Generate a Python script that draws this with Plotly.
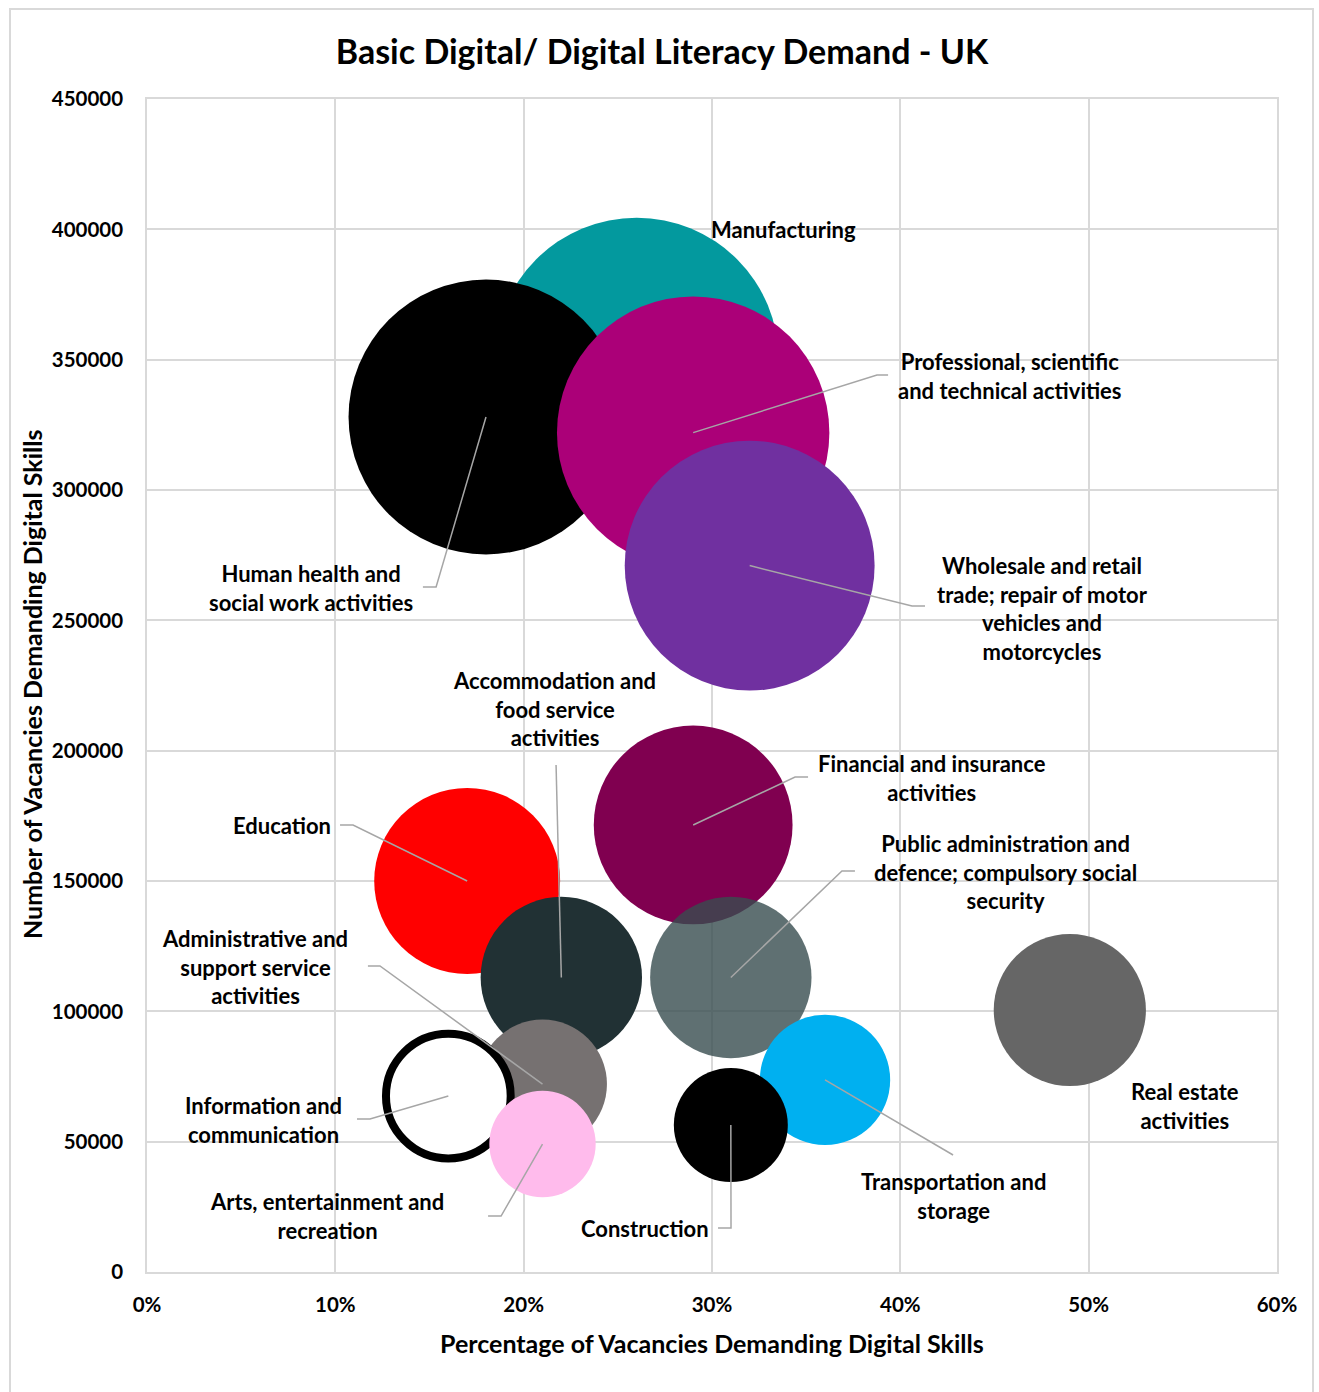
import plotly.graph_objects as go

# ---------------- data ----------------
sectors = [
    "Manufacturing",
    "Human health and social work activities",
    "Professional, scientific and technical activities",
    "Wholesale and retail trade; repair of motor vehicles and motorcycles",
    "Financial and insurance activities",
    "Education",
    "Accommodation and food service activities",
    "Public administration and defence; compulsory social security",
    "Real estate activities",
    "Administrative and support service activities",
    "Information and communication",
    "Arts, entertainment and recreation",
    "Transportation and storage",
    "Construction",
]
pct_digital = [0.26, 0.18, 0.29, 0.32, 0.29, 0.17, 0.22, 0.31, 0.49, 0.21, 0.16, 0.21, 0.36, 0.31]
vacancies = [350000, 328000, 322000, 271000, 171500, 150000, 113000, 113000, 100500, 72100, 67500, 49100, 73700, 56400]

x_ticks = [0, 0.1, 0.2, 0.3, 0.4, 0.5, 0.6]
y_ticks = list(range(0, 450001, 50000))

# ---------------- styles ----------------
fill_colors = ["#03999E", "#000000", "#AB0078", "#7030A0", "#800050", "#FF0000", "#213134",
               "rgb(55,76,79)", "#666666", "#767171", "#FFFFFF", "#FFBBEC", "#00B0F0", "#000000"]
opacities = [1, 1, 1, 1, 1, 1, 1, 0.8, 1, 1, 1, 1, 1, 1]
line_widths = [0, 0, 0, 0, 0, 0, 0, 0, 0, 0, 8, 0, 0, 0]

label_text = [
    "Manufacturing",
    "Human health and<br>social work activities",
    "Professional, scientific<br>and technical activities",
    "Wholesale and retail<br>trade; repair of motor<br>vehicles and<br>motorcycles",
    "Financial and insurance<br>activities",
    "Education",
    "Accommodation and<br>food service<br>activities",
    "Public administration and<br>defence; compulsory social<br>security",
    "Real estate<br>activities",
    "Administrative and<br>support service<br>activities",
    "Information and<br>communication",
    "Arts, entertainment and<br>recreation",
    "Transportation and<br>storage",
    "Construction",
]
# label centre positions (data units)
label_pos = [
    (0.338, 400100), (0.0871, 262400), (0.4582, 343730), (0.4757, 254730),
    (0.4168, 189510), (0.0717, 171480), (0.2166, 215980), (0.4556, 153450),
    (0.5511, 63680), (0.0573, 117010), (0.0616, 58310), (0.0956, 21480),
    (0.4280, 29160), (0.2644, 16880),
]
# leader line waypoints after the bubble centre (data units); None = no leader
leader_pts = [
    None,
    [(0.1535, 262790), (0.1465, 262790)],
    [(0.3876, 344110), (0.3935, 344110)],
    [(0.4062, 255500), (0.4131, 255500)],
    [(0.3441, 189900), (0.3510, 189900)],
    [(0.1094, 171480), (0.1025, 171480)],
    [(0.2172, 194500)],
    [(0.3690, 153840), (0.3759, 153840)],
    None,
    [(0.1237, 117390), (0.1173, 117390)],
    [(0.1184, 58700), (0.1115, 58700)],
    [(0.1880, 21480), (0.1811, 21480)],
    [(0.4280, 44885)],
    [(0.3101, 16880), (0.3032, 16880)],
]

MAX_DIAMETER = 284
sizeref = 4 * max(vacancies) / (2 * MAX_DIAMETER ** 2)

FONT = "Lato"
fig = go.Figure()
for i, name in enumerate(sectors):
    fig.add_trace(go.Scatter(
        x=[pct_digital[i]], y=[vacancies[i]], name=name, mode="markers",
        marker=dict(size=[vacancies[i]], sizemode="area", sizeref=sizeref,
                    color=fill_colors[i], opacity=opacities[i],
                    line=dict(width=line_widths[i], color="#000000")),
        hoverinfo="name+x+y",
    ))

shapes = []
for i, pts in enumerate(leader_pts):
    if not pts:
        continue
    path = f"M {pct_digital[i]},{vacancies[i]}"
    for (px, py) in pts:
        path += f" L {px},{py}"
    shapes.append(dict(type="path", path=path, xref="x", yref="y",
                       line=dict(color="#A6A6A6", width=1.5), layer="above"))

# outer chart border
shapes.append(dict(type="rect", xref="paper", yref="paper",
                   x0=(10 - 147) / 1130, x1=(1313 - 147) / 1130,
                   y0=(1272 - 1420) / 1173, y1=(1272 - 9) / 1173,
                   line=dict(color="#D9D9D9", width=2), layer="below"))

annotations = []
for i, t in enumerate(label_text):
    lx, ly = label_pos[i]
    annotations.append(dict(x=lx, y=ly, xref="x", yref="y", text=t, showarrow=False,
                            align="center", xanchor="center", yanchor="middle",
                            font=dict(family=FONT, size=22, color="#000000", weight=700)))
annotations.append(dict(x=0.5, y=(1272 - 1343) / 1173, xref="paper", yref="paper",
                        text="Percentage of Vacancies Demanding Digital Skills", showarrow=False,
                        xanchor="center", yanchor="middle",
                        font=dict(family=FONT, size=25, color="#000000", weight=700)))
annotations.append(dict(x=(32 - 147) / 1130, y=(1272 - 685) / 1173, xref="paper", yref="paper",
                        text="Number of Vacancies Demanding Digital Skills", showarrow=False,
                        textangle=-90, xanchor="center", yanchor="middle",
                        font=dict(family=FONT, size=25, color="#000000", weight=700)))

fig.update_layout(
    width=1319, height=1392,
    margin=dict(l=147, r=42, t=99, b=120),
    paper_bgcolor="#FFFFFF", plot_bgcolor="#FFFFFF",
    showlegend=False,
    title=dict(text="Basic Digital/ Digital Literacy Demand - UK",
               x=662 / 1319, xref="container", xanchor="center",
               y=1 - 52 / 1392, yref="container", yanchor="middle",
               font=dict(family=FONT, size=34, color="#000000", weight=700)),
    shapes=shapes,
    annotations=annotations,
)
fig.update_xaxes(range=[0, 0.6], tickvals=x_ticks, tickformat=".0%",
                 showgrid=True, gridcolor="#D9D9D9", gridwidth=1.5,
                 showline=True, linecolor="#D9D9D9", linewidth=1.5, mirror=True,
                 zeroline=False, ticks="outside", ticklen=14, tickcolor="rgba(0,0,0,0)",
                 tickfont=dict(family=FONT, size=20.5, color="#000000", weight=700))
fig.update_yaxes(range=[0, 450000], tickvals=y_ticks, tickformat="d",
                 showgrid=True, gridcolor="#D9D9D9", gridwidth=1.5,
                 showline=True, linecolor="#D9D9D9", linewidth=1.5, mirror=True,
                 zeroline=False, ticks="outside", ticklen=18, tickcolor="rgba(0,0,0,0)",
                 tickfont=dict(family=FONT, size=20.5, color="#000000", weight=700))

fig.write_html("out.html")
